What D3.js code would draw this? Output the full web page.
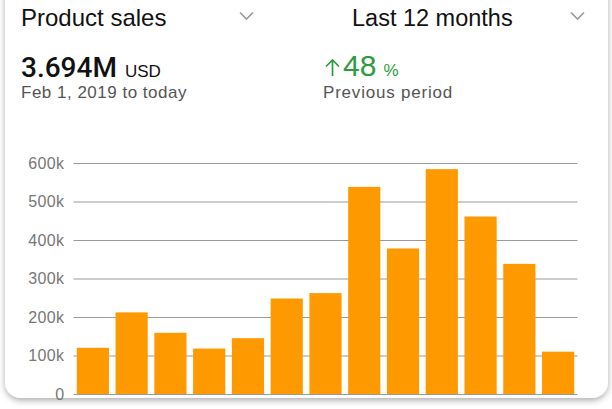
<!DOCTYPE html>
<html>
<head>
<meta charset="utf-8">
<script src="https://cdn.jsdelivr.net/npm/d3@7"></script>
<style>
  html, body { margin: 0; padding: 0; background: #fff; }
  svg { display: block; font-family: "Liberation Sans", Arial, sans-serif; }
</style>
</head>
<body>
<svg id="chart"></svg>
<script>
// Chart size
const dimen = { width: 612, height: 409 };

// Data (one bar per month)
const months = ["Feb", "Mar", "Apr", "May", "Jun", "Jul", "Aug", "Sep", "Oct", "Nov", "Dec", "Jan", "Feb*"];
const sales = [120000, 212000, 159000, 118000, 145000, 248000, 262000, 538000, 378000, 584000, 461000, 338000, 110000];
const yTicks = [0, 100000, 200000, 300000, 400000, 500000, 600000];

const svg = d3.select("#chart")
  .attr("width", dimen.width)
  .attr("height", dimen.height);

// Card with soft shadow
const defs = svg.append("defs");
const f = defs.append("filter").attr("id", "shadow")
  .attr("x", "-10%").attr("y", "-10%").attr("width", "120%").attr("height", "120%");
f.append("feDropShadow")
  .attr("dx", 0).attr("dy", 2.5).attr("stdDeviation", 3)
  .attr("flood-color", "#000").attr("flood-opacity", 0.32);

svg.append("rect")
  .attr("x", 5).attr("y", -20)
  .attr("width", 603).attr("height", 418)
  .attr("rx", 16)
  .attr("fill", "#fff")
  .attr("filter", "url(#shadow)");

// Header
const chevron = (x, y) => svg.append("path")
  .attr("d", `M${x},${y} l6.5,6.5 l6.5,-6.5`)
  .attr("fill", "none").attr("stroke", "#999").attr("stroke-width", 1.6);

svg.append("text").attr("x", 21).attr("y", 26)
  .attr("font-size", 24).attr("fill", "#111").text("Product sales");
chevron(240, 12.5);

svg.append("text").attr("x", 352).attr("y", 26)
  .attr("font-size", 23.5).attr("fill", "#111").text("Last 12 months");
chevron(571, 12.5);

const total = svg.append("text").attr("x", 21).attr("y", 77).attr("fill", "#111");
total.append("tspan").attr("font-size", 28).attr("font-family", "Roboto, sans-serif")
  .attr("font-weight", 500).text("3.694M");
total.append("tspan").attr("font-size", 17).attr("dx", 8).text("USD");

svg.append("text").attr("x", 21).attr("y", 98)
  .attr("font-size", 17).attr("letter-spacing", 0.5).attr("fill", "#555")
  .text("Feb 1, 2019 to today");

// up arrow
svg.append("path")
  .attr("d", "M332.5,76 V60 M326,66.5 L332.5,60 L339,66.5")
  .attr("fill", "none").attr("stroke", "#2e9b3e").attr("stroke-width", 1.7);

const change = svg.append("text").attr("x", 343).attr("y", 76).attr("fill", "#2e9b3e");
change.append("tspan").attr("font-size", 30).text("48");
change.append("tspan").attr("font-size", 17).attr("dx", 7).text("%");

svg.append("text").attr("x", 323).attr("y", 98)
  .attr("font-size", 17).attr("letter-spacing", 0.8).attr("fill", "#555")
  .text("Previous period");

// Scales
const x = d3.scaleBand()
  .domain(months)
  .range([73.5, 577.5])
  .paddingInner(0.17)
  .paddingOuter(0.085);

const y = d3.scaleLinear()
  .domain([0, 600000])
  .range([394, 163]);

// Gridlines + labels
const yAxis = svg.append("g")
  .call(d3.axisLeft(y)
    .tickValues(yTicks)
    .tickSize(-(577.5 - 73.5))
    .tickPadding(9)
    .tickFormat(d => d === 0 ? "0" : (d / 1000) + "k"))
  .attr("transform", "translate(73.5,0)");

yAxis.select(".domain").remove();
yAxis.selectAll(".tick line").attr("stroke", "#9a9a9a").attr("stroke-width", 1);
yAxis.selectAll(".tick text")
  .attr("font-size", 16).attr("letter-spacing", 0.4)
  .attr("font-family", "Liberation Sans, Arial, sans-serif")
  .attr("fill", "#777");

// Bars
svg.append("g")
  .selectAll("rect")
  .data(sales)
  .enter().append("rect")
    .attr("x", (d, i) => x(months[i]))
    .attr("y", d => y(d))
    .attr("width", x.bandwidth())
    .attr("height", d => y(0) - y(d))
    .attr("fill", "#ff9900");
</script>
</body>
</html>
